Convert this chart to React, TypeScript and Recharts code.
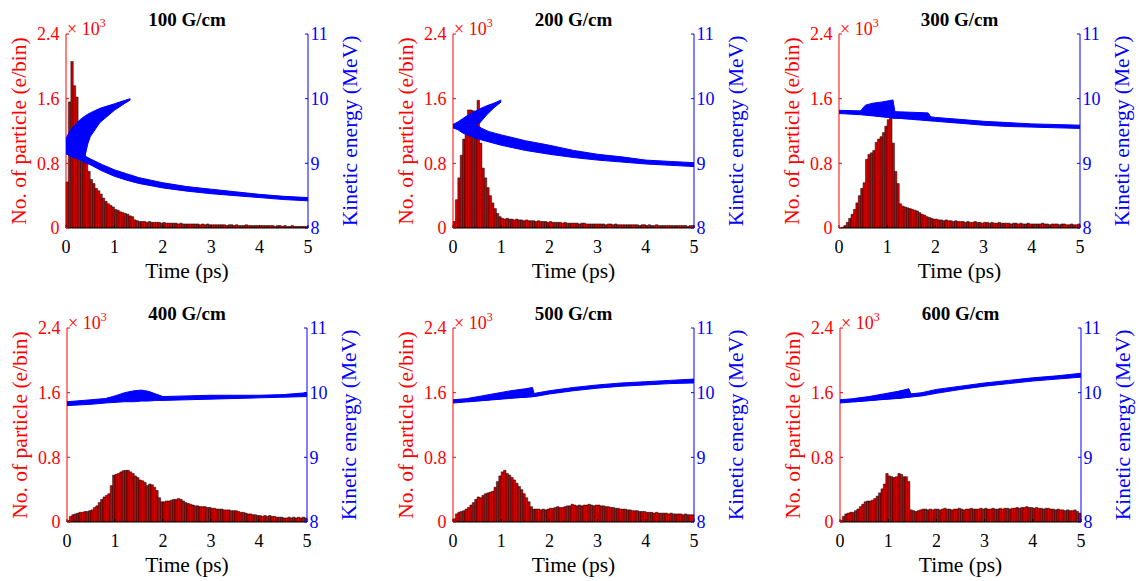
import { ComposedChart, Bar, Area, XAxis, YAxis } from 'recharts'

// time bins are 0.05 ps wide, 100 of them between 0 and 5 ps
const binCentres = Array.from({ length: 100 }, (_, i) => +(0.025 + 0.05 * i).toFixed(3))

const timeTicks = [0, 1, 2, 3, 4, 5]
const countTicks = [0, 0.8, 1.6, 2.4]
const energyTicks = [8, 9, 10, 11]

// particle counts per bin, in units of 10^3
const counts100 = [
  0.57, 1.56, 2.06, 1.76, 1.62, 1.28, 1.03, 0.93, 0.84, 0.70,
  0.60, 0.55, 0.49, 0.46, 0.42, 0.37, 0.33, 0.30, 0.28, 0.26,
  0.23, 0.22, 0.20, 0.19, 0.18, 0.17, 0.15, 0.14, 0.10, 0.09,
  0.08, 0.08, 0.08, 0.07, 0.08, 0.07, 0.07, 0.07, 0.07, 0.06,
  0.07, 0.06, 0.06, 0.06, 0.06, 0.06, 0.05, 0.06, 0.05, 0.05,
  0.05, 0.05, 0.05, 0.05, 0.05, 0.04, 0.05, 0.04, 0.05, 0.04,
  0.04, 0.04, 0.04, 0.04, 0.04, 0.04, 0.03, 0.04, 0.04, 0.03,
  0.04, 0.03, 0.03, 0.03, 0.04, 0.03, 0.03, 0.03, 0.03, 0.03,
  0.03, 0.03, 0.03, 0.03, 0.03, 0.03, 0.02, 0.03, 0.03, 0.02,
  0.03, 0.02, 0.02, 0.03, 0.02, 0.02, 0.02, 0.02, 0.02, 0.02,
]
const counts200 = [
  0.08, 0.35, 0.62, 0.90, 1.10, 1.27, 1.46, 1.46, 1.45, 1.42,
  1.58, 1.05, 0.74, 0.62, 0.50, 0.40, 0.31, 0.24, 0.18, 0.14,
  0.12, 0.11, 0.12, 0.11, 0.11, 0.10, 0.11, 0.10, 0.10, 0.09,
  0.10, 0.09, 0.09, 0.09, 0.08, 0.09, 0.08, 0.08, 0.08, 0.07,
  0.08, 0.07, 0.07, 0.07, 0.07, 0.06, 0.07, 0.06, 0.06, 0.06,
  0.06, 0.06, 0.05, 0.06, 0.06, 0.05, 0.05, 0.05, 0.05, 0.05,
  0.05, 0.05, 0.05, 0.04, 0.05, 0.05, 0.04, 0.05, 0.04, 0.04,
  0.04, 0.04, 0.04, 0.04, 0.04, 0.04, 0.04, 0.03, 0.04, 0.04,
  0.03, 0.04, 0.03, 0.03, 0.04, 0.03, 0.03, 0.03, 0.03, 0.03,
  0.03, 0.03, 0.03, 0.03, 0.03, 0.03, 0.03, 0.02, 0.03, 0.03,
]
const counts300 = [
  0.00, 0.01, 0.03, 0.07, 0.12, 0.17, 0.23, 0.31, 0.40, 0.49,
  0.56, 0.85, 0.91, 0.93, 0.96, 1.06, 1.10, 1.13, 1.18, 1.26,
  1.34, 1.36, 1.05, 0.70, 0.55, 0.30, 0.27, 0.26, 0.25, 0.24,
  0.23, 0.22, 0.21, 0.19, 0.17, 0.16, 0.14, 0.13, 0.12, 0.11,
  0.11, 0.10, 0.10, 0.09, 0.10, 0.09, 0.09, 0.08, 0.09, 0.08,
  0.08, 0.08, 0.07, 0.08, 0.07, 0.07, 0.08, 0.07, 0.07, 0.06,
  0.07, 0.07, 0.06, 0.07, 0.06, 0.06, 0.07, 0.06, 0.06, 0.06,
  0.06, 0.05, 0.06, 0.06, 0.05, 0.06, 0.05, 0.05, 0.06, 0.05,
  0.05, 0.05, 0.05, 0.05, 0.06, 0.05, 0.05, 0.04, 0.05, 0.05,
  0.05, 0.04, 0.05, 0.05, 0.04, 0.04, 0.05, 0.04, 0.04, 0.05,
]
const counts400 = [
  0.02, 0.07, 0.09, 0.10, 0.11, 0.12, 0.12, 0.13, 0.13, 0.14,
  0.15, 0.18, 0.20, 0.24, 0.28, 0.31, 0.33, 0.35, 0.45, 0.58,
  0.59, 0.60, 0.62, 0.635, 0.64, 0.64, 0.62, 0.60, 0.57, 0.55,
  0.52, 0.51, 0.49, 0.45, 0.47, 0.46, 0.43, 0.39, 0.30, 0.25,
  0.25, 0.26, 0.26, 0.27, 0.28, 0.28, 0.29, 0.28, 0.26, 0.24,
  0.23, 0.22, 0.21, 0.20, 0.20, 0.19, 0.19, 0.19, 0.18, 0.18,
  0.17, 0.17, 0.16, 0.16, 0.16, 0.15, 0.15, 0.15, 0.14, 0.14,
  0.14, 0.13, 0.12, 0.12, 0.11, 0.10, 0.10, 0.09, 0.09, 0.08,
  0.08, 0.07, 0.08, 0.07, 0.08, 0.07, 0.07, 0.06, 0.06, 0.06,
  0.05, 0.05, 0.06, 0.05, 0.06, 0.05, 0.06, 0.05, 0.06, 0.05,
]
const counts500 = [
  0.04, 0.10, 0.12, 0.13, 0.14, 0.16, 0.18, 0.21, 0.24, 0.28,
  0.31, 0.30, 0.33, 0.35, 0.36, 0.37, 0.38, 0.43, 0.50, 0.57,
  0.62, 0.64, 0.60, 0.58, 0.55, 0.52, 0.48, 0.44, 0.40, 0.35,
  0.30, 0.25, 0.19, 0.16, 0.16, 0.16, 0.15, 0.16, 0.15, 0.16,
  0.17, 0.17, 0.18, 0.19, 0.18, 0.18, 0.19, 0.20, 0.20, 0.22,
  0.21, 0.20, 0.21, 0.20, 0.21, 0.21, 0.22, 0.21, 0.20, 0.21,
  0.21, 0.20, 0.20, 0.19, 0.19, 0.18, 0.18, 0.17, 0.17, 0.16,
  0.16, 0.16, 0.15, 0.15, 0.14, 0.14, 0.14, 0.13, 0.13, 0.13,
  0.12, 0.12, 0.12, 0.11, 0.12, 0.11, 0.11, 0.11, 0.11, 0.10,
  0.11, 0.10, 0.10, 0.10, 0.10, 0.09, 0.10, 0.09, 0.09, 0.09,
]
const counts600 = [
  0.02, 0.07, 0.10, 0.11, 0.12, 0.12, 0.14, 0.16, 0.19, 0.22,
  0.25, 0.26, 0.26, 0.27, 0.29, 0.32, 0.36, 0.41, 0.47, 0.60,
  0.57, 0.56, 0.55, 0.56, 0.60, 0.59, 0.56, 0.56, 0.50, 0.15,
  0.14, 0.13, 0.14, 0.15, 0.16, 0.16, 0.15, 0.16, 0.15, 0.16,
  0.16, 0.15, 0.16, 0.17, 0.16, 0.16, 0.15, 0.16, 0.16, 0.17,
  0.16, 0.15, 0.16, 0.16, 0.17, 0.16, 0.16, 0.16, 0.17, 0.16,
  0.17, 0.16, 0.16, 0.17, 0.16, 0.16, 0.17, 0.16, 0.17, 0.17,
  0.16, 0.17, 0.17, 0.18, 0.17, 0.18, 0.18, 0.19, 0.18, 0.18,
  0.17, 0.18, 0.17, 0.17, 0.16, 0.17, 0.17, 0.16, 0.16, 0.15,
  0.16, 0.15, 0.15, 0.14, 0.15, 0.14, 0.14, 0.15, 0.13, 0.11,
]

// kinetic energy spread: [time (ps), lower MeV, upper MeV]
type Band = [number, number, number][]

const ke100Lower: Band = [
  [0, 9.15, 9.36], [0.1, 9.11, 9.3], [0.2, 9.08, 9.22], [0.3, 9.05, 9.16],
  [0.4, 9.01, 9.11], [0.5, 8.98, 9.07], [0.75, 8.88, 8.98], [1, 8.8, 8.9],
  [1.25, 8.74, 8.84], [1.5, 8.69, 8.78], [2, 8.62, 8.7], [2.5, 8.57, 8.64],
  [3, 8.53, 8.6], [3.5, 8.5, 8.56], [4, 8.47, 8.52], [4.5, 8.44, 8.49], [5, 8.42, 8.47],
]
const ke100Upper: Band = [
  [0, 9.15, 9.38], [0.05, 9.13, 9.46], [0.1, 9.11, 9.52], [0.2, 9.08, 9.61],
  [0.3, 9.05, 9.68], [0.37, 9.04, 9.72], [0.45, 9.3, 9.76], [0.5, 9.41, 9.78],
  [0.7, 9.63, 9.85], [1, 9.82, 9.92], [1.2, 9.92, 9.97], [1.33, 9.98, 10.0],
]
const ke200Lower: Band = [
  [0, 9.55, 9.6], [0.1, 9.52, 9.6], [0.2, 9.47, 9.6], [0.3, 9.44, 9.6],
  [0.5, 9.38, 9.58], [0.6, 9.36, 9.54], [0.75, 9.33, 9.49], [1, 9.28, 9.44],
  [1.5, 9.2, 9.35], [2, 9.14, 9.28], [2.5, 9.09, 9.2], [3, 9.05, 9.14],
  [3.5, 9.02, 9.1], [4, 8.99, 9.05], [4.5, 8.97, 9.03], [5, 8.95, 9.01],
]
const ke200Upper: Band = [
  [0, 9.55, 9.6], [0.1, 9.55, 9.64], [0.2, 9.55, 9.69], [0.3, 9.56, 9.74],
  [0.45, 9.58, 9.8], [0.55, 9.62, 9.84], [0.7, 9.75, 9.89], [0.85, 9.86, 9.93],
  [1, 9.95, 9.98],
]
const ke300Main: Band = [
  [0, 9.77, 9.82], [0.5, 9.75, 9.81], [1, 9.71, 9.79], [1.5, 9.68, 9.76],
  [2, 9.65, 9.71], [2.5, 9.62, 9.68], [3, 9.59, 9.65], [3.5, 9.57, 9.63],
  [4, 9.56, 9.61], [4.5, 9.55, 9.6], [5, 9.54, 9.59],
]
const ke300Bump: Band = [
  [0.45, 9.76, 9.81], [0.5, 9.75, 9.86], [0.55, 9.75, 9.9], [0.7, 9.74, 9.93],
  [0.9, 9.73, 9.95], [1.05, 9.72, 9.97], [1.12, 9.72, 9.98], [1.16, 9.72, 9.8],
]
const ke300Tail: Band = [
  [1.1, 9.7, 9.8], [1.5, 9.69, 9.79], [1.85, 9.67, 9.78], [1.92, 9.66, 9.7],
]
const ke400Main: Band = [
  [0, 9.8, 9.86], [0.5, 9.82, 9.89], [0.8, 9.84, 9.91], [1, 9.85, 9.95],
  [1.2, 9.86, 10.0], [1.4, 9.86, 10.03], [1.55, 9.87, 10.04], [1.7, 9.87, 10.02],
  [1.85, 9.88, 9.98], [2, 9.88, 9.94], [2.5, 9.89, 9.95], [3, 9.9, 9.96],
  [3.5, 9.91, 9.96], [4, 9.92, 9.96], [4.5, 9.93, 9.97], [5, 9.94, 10.0],
]
const ke500Main: Band = [
  [0, 9.84, 9.89], [0.5, 9.87, 9.92], [1, 9.9, 9.95], [1.5, 9.93, 9.98],
  [1.7, 9.94, 9.99], [2, 9.98, 10.03], [2.5, 10.03, 10.08], [3, 10.07, 10.12],
  [3.5, 10.1, 10.15], [4, 10.12, 10.17], [4.5, 10.14, 10.19], [5, 10.15, 10.21],
]
const ke500Wedge: Band = [
  [0.3, 9.86, 9.91], [0.6, 9.88, 9.95], [0.9, 9.9, 9.99], [1.2, 9.92, 10.03],
  [1.5, 9.93, 10.06], [1.65, 9.94, 10.08], [1.68, 9.95, 9.99],
]
const ke600Main: Band = [
  [0, 9.84, 9.89], [0.5, 9.87, 9.92], [1, 9.9, 9.95], [1.45, 9.93, 9.98],
  [1.7, 9.95, 10.0], [2, 9.99, 10.05], [2.5, 10.05, 10.1], [3, 10.1, 10.15],
  [3.5, 10.14, 10.19], [4, 10.18, 10.23], [4.5, 10.21, 10.26], [5, 10.24, 10.3],
]
const ke600Wedge: Band = [
  [0.3, 9.86, 9.91], [0.6, 9.88, 9.94], [0.9, 9.9, 9.98], [1.2, 9.91, 10.02],
  [1.43, 9.93, 10.06], [1.47, 9.94, 9.98],
]

const FONT = '"Liberation Serif", "Times New Roman", Times, serif'
const RED = '#ff0000'
const BLUE = '#0000ff'

const PLOT_H = 194
const LEFT_W = 96
const RIGHT_W = 83
const XAXIS_H = 84
const TOP_PAD = 34

const panels = [
  { title: '100 G/cm', counts: counts100, bands: [ke100Lower, ke100Upper], x: 66, y: 34, w: 242 },
  { title: '200 G/cm', counts: counts200, bands: [ke200Lower, ke200Upper], x: 453, y: 34, w: 241 },
  { title: '300 G/cm', counts: counts300, bands: [ke300Main, ke300Bump, ke300Tail], x: 839, y: 34, w: 241 },
  { title: '400 G/cm', counts: counts400, bands: [ke400Main], x: 67, y: 328, w: 240 },
  { title: '500 G/cm', counts: counts500, bands: [ke500Main, ke500Wedge], x: 453, y: 328, w: 241 },
  { title: '600 G/cm', counts: counts600, bands: [ke600Main, ke600Wedge], x: 840, y: 328, w: 241 },
]

const fmtCount = (v: number) => (v === 0 ? '0' : v.toFixed(1))

function Panel({ title, counts, bands, x, y, w }: (typeof panels)[number]) {
  const rows = binCentres.map((t, i) => ({ t, n: counts[i] }))
  return (
    <>
      <div style={{ position: 'absolute', left: x - LEFT_W, top: y - TOP_PAD }}>
        <ComposedChart
          width={LEFT_W + w + RIGHT_W}
          height={TOP_PAD + PLOT_H + XAXIS_H}
          data={rows}
          margin={{ top: TOP_PAD, right: 0, bottom: 0, left: 0 }}
          barCategoryGap={0}
          barGap={0}
          style={{ fontFamily: FONT }}
        >
          <XAxis
            xAxisId="time"
            dataKey="t"
            type="number"
            domain={[0, 5]}
            allowDataOverflow
            ticks={timeTicks}
            interval={0}
            height={XAXIS_H}
            stroke="#000"
            tickSize={-3}
            tickMargin={15.4}
            tick={{ fill: '#000', fontSize: 18, fontFamily: FONT }}
            label={{ value: 'Time (ps)', position: 'center', fill: '#000', fontSize: 21.5, fontFamily: FONT }}
          />
          <XAxis xAxisId="bins" dataKey="t" type="category" hide height={0} />
          <YAxis
            yAxisId="count"
            domain={[0, 2.4]}
            allowDataOverflow
            ticks={countTicks}
            interval={0}
            width={LEFT_W}
            stroke={RED}
            tickSize={-3}
            tickMargin={9.5}
            tickFormatter={fmtCount}
            tick={{ fill: RED, fontSize: 18, fontFamily: FONT }}
            label={{
              value: 'No. of particle (e/bin)',
              angle: -90,
              position: 'center',
              fill: RED,
              fontSize: 21.5,
              fontFamily: FONT,
            }}
          />
          <YAxis
            yAxisId="energy"
            orientation="right"
            domain={[8, 11]}
            allowDataOverflow
            ticks={energyTicks}
            interval={0}
            width={RIGHT_W}
            stroke={BLUE}
            tickSize={-3}
            tickMargin={5.5}
            tick={{ fill: BLUE, fontSize: 18, fontFamily: FONT }}
            label={{
              value: 'Kinetic energy (MeV)',
              angle: -90,
              position: 'center',
              fill: BLUE,
              fontSize: 21.5,
              fontFamily: FONT,
            }}
          />
          <Bar
            xAxisId="bins"
            yAxisId="count"
            dataKey="n"
            barSize={w / 100 - 0.005}
            fill="#d40000"
            stroke="#000"
            strokeWidth={0.5}
            zIndex={300}
            isAnimationActive={false}
          />
          {bands.map((band, i) => (
            <Area
              key={i}
              xAxisId="time"
              yAxisId="energy"
              data={band.map(([t, lo, hi]) => ({ t, range: [lo, hi] }))}
              dataKey="range"
              type="linear"
              stroke={BLUE}
              strokeWidth={1}
              fill={BLUE}
              fillOpacity={1}
              dot={false}
              activeDot={false}
              zIndex={900}
              isAnimationActive={false}
            />
          ))}
        </ComposedChart>
      </div>
      <div
        style={{
          position: 'absolute',
          left: x,
          top: y - 24.5,
          width: w,
          textAlign: 'center',
          fontWeight: 'bold',
          fontSize: 19,
          lineHeight: '19px',
          color: '#000',
        }}
      >
        {title}
      </div>
      <div
        style={{
          position: 'absolute',
          left: x + 1,
          top: y - 14.5,
          fontSize: 18,
          lineHeight: '18px',
          color: RED,
          whiteSpace: 'nowrap',
        }}
      >
        × 10<span style={{ fontSize: 12, position: 'relative', top: -8 }}>3</span>
      </div>
    </>
  )
}

export default function App() {
  return (
    <div
      style={{
        position: 'absolute',
        left: 0,
        top: 0,
        width: 1141,
        height: 581,
        overflow: 'hidden',
        background: '#fff',
        fontFamily: FONT,
      }}
    >
      {panels.map((p) => (
        <Panel key={p.title} {...p} />
      ))}
    </div>
  )
}
